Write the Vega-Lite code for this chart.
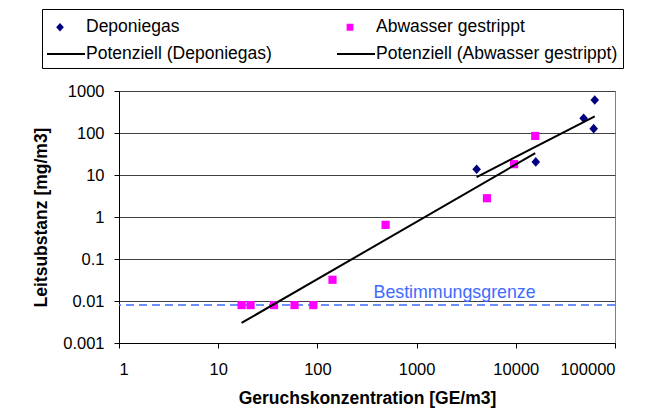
{
  "$schema": "https://vega.github.io/schema/vega-lite/v6.json",
  "autosize": {"type": "none"},
  "width": 496,
  "height": 252,
  "padding": {"left": 119, "top": 91, "right": 48, "bottom": 76},
  "background": "white",
  "datasets": {
    "points": [
      {"series": "Deponiegas", "x": 62500, "y": 611},
      {"series": "Deponiegas", "x": 48300, "y": 224},
      {"series": "Deponiegas", "x": 61000, "y": 127},
      {"series": "Deponiegas", "x": 4030, "y": 13.7},
      {"series": "Deponiegas", "x": 15900, "y": 20.5},
      {"series": "Abwasser gestrippt", "x": 15700, "y": 85},
      {"series": "Abwasser gestrippt", "x": 9610, "y": 18.1},
      {"series": "Abwasser gestrippt", "x": 5120, "y": 2.8},
      {"series": "Abwasser gestrippt", "x": 487, "y": 0.65},
      {"series": "Abwasser gestrippt", "x": 142, "y": 0.032},
      {"series": "Abwasser gestrippt", "x": 91, "y": 0.008},
      {"series": "Abwasser gestrippt", "x": 58.8, "y": 0.008},
      {"series": "Abwasser gestrippt", "x": 36.5, "y": 0.008},
      {"series": "Abwasser gestrippt", "x": 21.2, "y": 0.008},
      {"series": "Abwasser gestrippt", "x": 17.2, "y": 0.008}
    ],
    "trends": [
      {"series": "Potenziell (Deponiegas)", "x": 4030, "y": 8.9},
      {"series": "Potenziell (Deponiegas)", "x": 62500, "y": 250},
      {"series": "Potenziell (Abwasser gestrippt)", "x": 17.2, "y": 0.003},
      {"series": "Potenziell (Abwasser gestrippt)", "x": 15700, "y": 33}
    ],
    "limit": [
      {"limit": 0.008, "x": 368, "label": "Bestimmungsgrenze"}
    ]
  },
  "layer": [
    {
      "data": {"name": "limit"},
      "mark": {"type": "rule", "color": "#3d6bff", "strokeWidth": 1.5, "strokeDash": [8, 5]},
      "encoding": {
        "y": {
          "field": "limit", "type": "quantitative",
          "title": "Leitsubstanz [mg/m3]",
          "scale": {"type": "log", "domain": [0.001, 1000], "nice": false},
          "axis": {"values": [0.001, 0.01, 0.1, 1, 10, 100, 1000], "labelExpr": "'' + datum.value", "grid": true, "labelPadding": 10, "titlePadding": 12}
        }
      }
    },
    {
      "data": {"name": "points"},
      "mark": {"type": "point", "filled": true, "opacity": 1, "size": 1681},
      "encoding": {
        "x": {
          "field": "x", "type": "quantitative",
          "title": "Geruchskonzentration [GE/m3]",
          "scale": {"type": "log", "domain": [1, 100000], "nice": false},
          "axis": {"values": [1, 10, 100, 1000, 10000, 100000], "labelExpr": "'' + datum.value", "grid": false, "labelPadding": 13, "titlePadding": 12}
        },
        "y": {"field": "y", "type": "quantitative"},
        "color": {
          "field": "series", "type": "nominal",
          "scale": {
            "domain": ["Deponiegas", "Abwasser gestrippt", "Potenziell (Deponiegas)", "Potenziell (Abwasser gestrippt)"],
            "range": ["#000080", "#ff00ff", "#000000", "#000000"]
          },
          "legend": {
            "title": null,
            "orient": "none",
            "direction": "horizontal",
            "legendX": -77,
            "legendY": -82,
            "columns": 2,
            "columnPadding": 61,
            "rowPadding": 5,
            "padding": 5,
            "strokeColor": "black",
            "symbolSize": 576,
            "symbolStrokeWidth": 2,
            "labelOffset": 13,
            "labelFont": "Liberation Sans",
            "labelFontSize": 17.5,
            "labelColor": "black",
            "labelLimit": 400,
            "encode": {
              "symbols": {
                "update": {
                  "shape": {"scale": "shape", "field": "value"},
                  "fill": {"scale": "color", "field": "value"},
                  "stroke": {"scale": "color", "field": "value"},
                  "opacity": {"value": 1}
                }
              }
            }
          }
        },
        "shape": {
          "field": "series", "type": "nominal", "legend": null,
          "scale": {
            "domain": ["Deponiegas", "Abwasser gestrippt", "Potenziell (Deponiegas)", "Potenziell (Abwasser gestrippt)"],
            "range": ["M0,-0.235L0.21,0L0,0.235L-0.21,0Z", "M-0.2,-0.2H0.2V0.2H-0.2Z", "M-1.083,0H2.083", "M-1.083,0H2.083"]
          }
        }
      }
    },
    {
      "data": {"name": "limit"},
      "mark": {"type": "text", "align": "left", "baseline": "alphabetic", "dy": -7, "color": "#3d6bff", "font": "Liberation Sans", "fontSize": 17.8},
      "encoding": {
        "x": {"field": "x", "type": "quantitative"},
        "y": {"field": "limit", "type": "quantitative"},
        "text": {"field": "label"}
      }
    },
    {
      "data": {"name": "trends"},
      "mark": {"type": "line", "strokeWidth": 2},
      "encoding": {
        "x": {"field": "x", "type": "quantitative"},
        "y": {"field": "y", "type": "quantitative"},
        "color": {"field": "series", "type": "nominal"}
      }
    }
  ],
  "config": {
    "view": {"stroke": "#808080"},
    "axis": {
      "domainColor": "black",
      "tickColor": "black",
      "tickSize": 5,
      "gridColor": "#404040",
      "gridOpacity": 1,
      "labelFont": "Liberation Sans",
      "labelFontSize": 16.5,
      "labelColor": "black",
      "titleFont": "Liberation Sans",
      "titleFontSize": 17.5,
      "titleFontWeight": "bold",
      "titleColor": "black"
    }
  }
}
